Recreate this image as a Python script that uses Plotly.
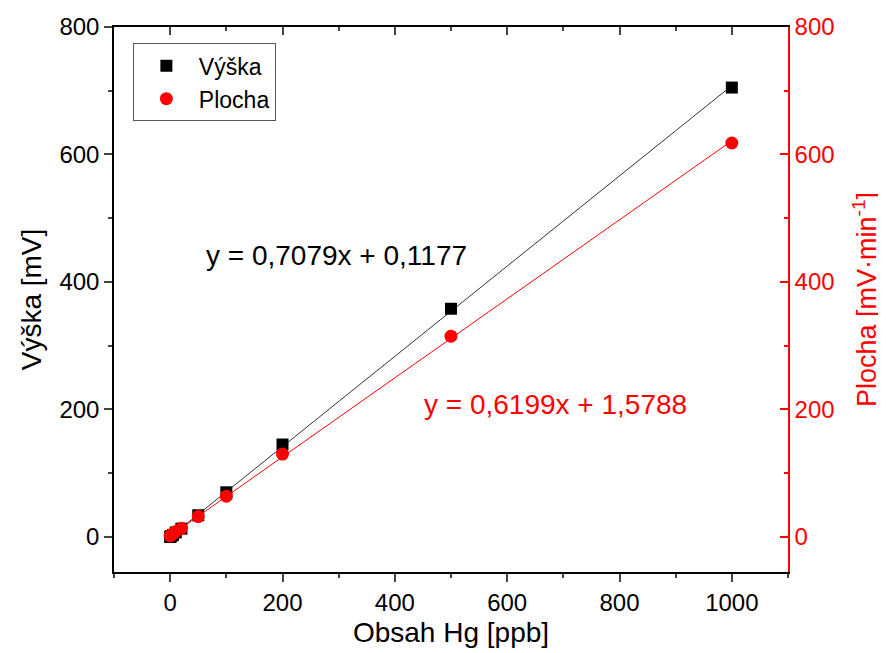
import plotly.graph_objects as go

# Data
obsah_hg = [0, 1, 2, 5, 10, 20, 50, 100, 200, 500, 1000]
vyska = [0.0, 0.8, 1.5, 3.2, 7.0, 13.0, 34.0, 70.0, 145.0, 358.0, 705.0]
plocha = [1.5, 2.2, 3.0, 5.0, 8.5, 13.5, 32.0, 64.0, 130.0, 315.0, 618.0]

fit_vyska = (0.7079, 0.1177)
fit_plocha = (0.6199, 1.5788)
eq_vyska = "y = 0,7079x + 0,1177"
eq_plocha = "y = 0,6199x + 1,5788"

x_ticks = [0, 200, 400, 600, 800, 1000]
y_ticks = [0, 200, 400, 600, 800]

FONT = "Liberation Sans, Arial, sans-serif"
RED = "#ff0000"

xs_fit = [min(obsah_hg), max(obsah_hg)]
fig = go.Figure()

fig.add_trace(go.Scatter(
    x=xs_fit, y=[fit_vyska[0] * v + fit_vyska[1] for v in xs_fit],
    mode="lines", line=dict(color="#333333", width=1), showlegend=False,
    hoverinfo="skip"))
fig.add_trace(go.Scatter(
    x=xs_fit, y=[fit_plocha[0] * v + fit_plocha[1] for v in xs_fit],
    mode="lines", line=dict(color=RED, width=1), showlegend=False,
    yaxis="y2", hoverinfo="skip"))

fig.add_trace(go.Scatter(
    x=obsah_hg, y=vyska, mode="markers", name="Výška",
    marker=dict(symbol="square", size=12, color="black")))
fig.add_trace(go.Scatter(
    x=obsah_hg, y=plocha, mode="markers", name="Plocha", yaxis="y2",
    marker=dict(symbol="circle", size=13, color=RED)))

# dummy top axis trace for inward ticks
fig.add_trace(go.Scatter(x=[None], y=[None], xaxis="x2", showlegend=False))

fig.add_annotation(x=296, y=442, text=eq_vyska, showarrow=False,
                   font=dict(size=28, color="black", family=FONT))
fig.add_annotation(x=686, y=208, text=eq_plocha, showarrow=False,
                   font=dict(size=28, color=RED, family=FONT))

axis_common = dict(showgrid=False, zeroline=False, showline=True, linewidth=1.5,
                   automargin=False)

fig.update_layout(
    width=886, height=653,
    margin=dict(l=106, r=106, t=19, b=89),
    plot_bgcolor="white", paper_bgcolor="white",
    font=dict(family=FONT, size=24, color="black"),
    xaxis=dict(**axis_common, range=[-100, 1100], tickvals=x_ticks,
               ticks="outside", ticklen=8, tickwidth=1.5, linecolor="black",
               minor=dict(ticks="outside", dtick=100, tick0=-100, ticklen=4, tickwidth=1.5),
               title=dict(text="Obsah Hg [ppb]", font=dict(size=28), standoff=8)),
    xaxis2=dict(**axis_common, range=[-100, 1100], overlaying="x", side="top",
                tickvals=x_ticks, showticklabels=False, ticks="inside",
                ticklen=8, tickwidth=1.5, linecolor="black",
                minor=dict(ticks="inside", dtick=100, tick0=-100, ticklen=4, tickwidth=1.5)),
    yaxis=dict(**axis_common, range=[-55, 800], tickvals=y_ticks,
               ticks="outside", ticklen=8, tickwidth=1.5, linecolor="black",
               minor=dict(ticks="outside", dtick=100, tick0=0, ticklen=4, tickwidth=1.5),
               title=dict(text="Výška [mV]", font=dict(size=28), standoff=10)),
    yaxis2=dict(**axis_common, range=[-55, 800], overlaying="y", side="right",
                tickvals=y_ticks, ticks="inside", ticklen=8, tickwidth=1.5,
                linecolor=RED, tickcolor=RED, tickfont=dict(color=RED, size=24),
                minor=dict(ticks="inside", dtick=100, tick0=0, ticklen=4, tickwidth=1.5, tickcolor=RED),
                title=dict(text="Plocha [mV·min<sup>-1</sup>]", font=dict(size=27, color=RED), standoff=24)),
    legend=dict(x=0.028, y=0.97, xanchor="left", yanchor="top",
                bordercolor="#555555", borderwidth=1, bgcolor="white",
                font=dict(size=23), itemwidth=55, tracegroupgap=0),
    showlegend=True,
)

fig.write_html("out.html")
